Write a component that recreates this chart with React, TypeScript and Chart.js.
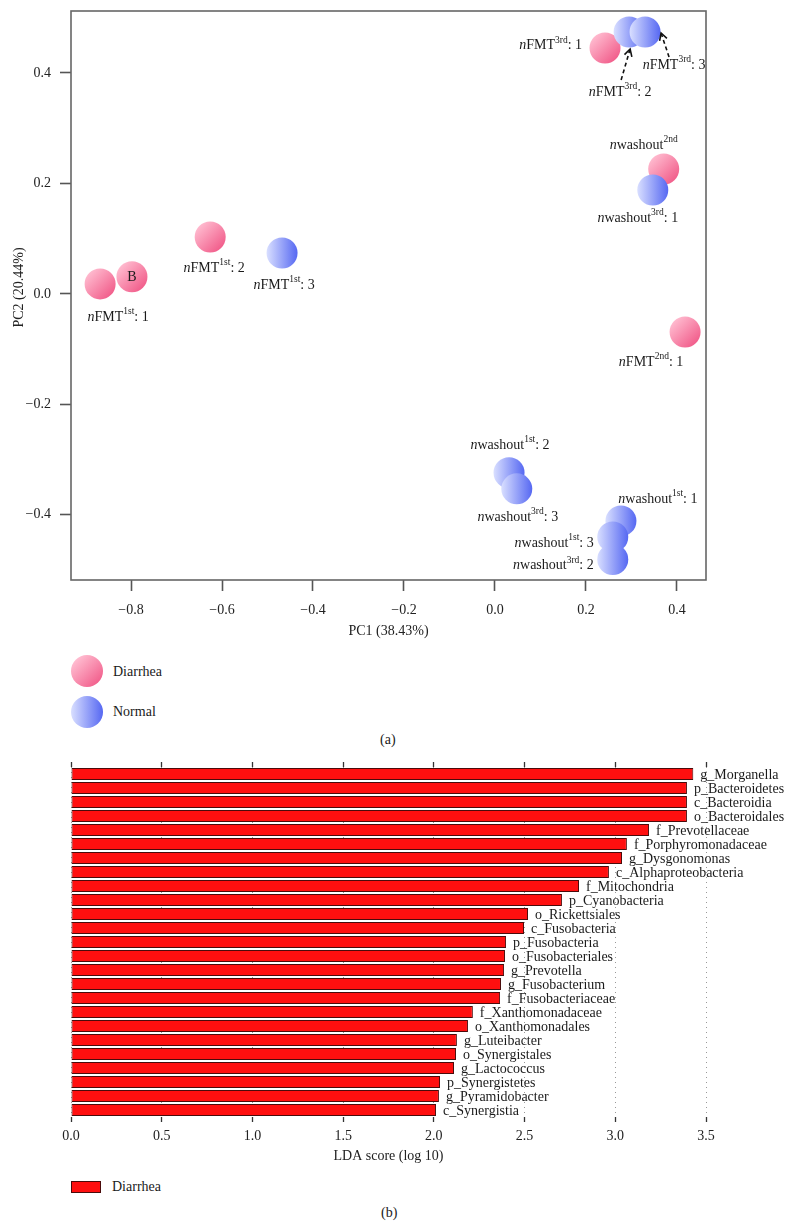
import React, { useEffect, useRef } from "react";
import { Chart, registerables } from "chart.js";

Chart.register(...registerables);

const SERIF = "'Liberation Serif', 'DejaVu Serif', 'Times New Roman', serif";
Chart.defaults.font.family = SERIF;
Chart.defaults.font.size = 14;
Chart.defaults.color = "#222";

// ---------- PCA (panel a) ----------
const sampleNames = [
  "nFMT^{1st}: 1", "B", "nFMT^{1st}: 2", "nFMT^{1st}: 3",
  "nFMT^{3rd}: 1", "nFMT^{3rd}: 2", "nFMT^{3rd}: 3",
  "nwashout^{2nd}", "nwashout^{3rd}: 1", "nFMT^{2nd}: 1",
  "nwashout^{1st}: 2", "nwashout^{3rd}: 3", "nwashout^{1st}: 1",
  "nwashout^{1st}: 3", "nwashout^{3rd}: 2",
];
const sampleGroups = [
  "Diarrhea", "Diarrhea", "Diarrhea", "Normal",
  "Diarrhea", "Normal", "Normal",
  "Diarrhea", "Normal", "Diarrhea",
  "Normal", "Normal", "Normal",
  "Normal", "Normal",
];
const pc1 = [-0.868, -0.798, -0.626, -0.468, 0.242, 0.295, 0.33, 0.371, 0.347, 0.418, 0.031, 0.048, 0.277, 0.259, 0.259];
const pc2 = [0.018, 0.031, 0.103, 0.074, 0.445, 0.474, 0.474, 0.226, 0.188, -0.069, -0.324, -0.353, -0.411, -0.44, -0.481];
const groupOrder = ["Normal", "Diarrhea"]; // first dataset is drawn on top
const xTitle = "PC1 (38.43%)";
const yTitle = "PC2 (20.44%)";

// label placement relative to the point (px): [dx, dy, align]
const labelPlacement: [number, number, string][] = [
  [18, 33, "center"], [0, 0, "center"], [4, 31, "center"], [2, 32, "center"],
  [-23, -3, "right"], [-9, 60, "center"], [29, 33, "center"],
  [-20, -24, "center"], [-15, 28, "center"], [-34, 30, "center"],
  [1, -28, "center"], [1, 28, "center"], [37, -22, "center"],
  [-19, 6, "right"], [-19, 6, "right"],
];
const arrowLinks = [
  { sample: 5, from: [-8, 48], to: [1, 17] },
  { sample: 6, from: [24, 25], to: [16, 1] },
];

// ---------- LDA (panel b) ----------
const ldaTaxa = [
  "g_Morganella", "p_Bacteroidetes", "c_Bacteroidia", "o_Bacteroidales",
  "f_Prevotellaceae", "f_Porphyromonadaceae", "g_Dysgonomonas", "c_Alphaproteobacteria",
  "f_Mitochondria", "p_Cyanobacteria", "o_Rickettsiales", "c_Fusobacteria",
  "p_Fusobacteria", "o_Fusobacteriales", "g_Prevotella", "g_Fusobacterium",
  "f_Fusobacteriaceae", "f_Xanthomonadaceae", "o_Xanthomonadales", "g_Luteibacter",
  "o_Synergistales", "g_Lactococcus", "p_Synergistetes", "g_Pyramidobacter",
  "c_Synergistia",
];
const ldaScores = [
  3.43, 3.395, 3.395, 3.395,
  3.186, 3.064, 3.037, 2.965,
  2.8, 2.706, 2.519, 2.497,
  2.398, 2.392, 2.387, 2.37,
  2.365, 2.215, 2.188, 2.127,
  2.122, 2.111, 2.034, 2.028,
  2.012,
];

const fmtTick = (v: any) => {
  const n = Number(v);
  const s = Math.abs(n).toFixed(1);
  return (n < -1e-9 ? "\u2212" : "") + s;
};

function drawRichLabel(ctx: CanvasRenderingContext2D, text: string, x: number, y: number, align: string) {
  ctx.textBaseline = "middle";
  ctx.fillStyle = "#1a1a1a";
  const m = text.match(/^n([A-Za-z]+)\^\{([^}]+)\}(.*)$/);
  if (!m) {
    ctx.font = `14px ${SERIF}`;
    ctx.textAlign = "center";
    ctx.fillText(text, x, y + 1);
    return;
  }
  const parts = [
    { t: "n", f: `italic 14px ${SERIF}`, dy: 0 },
    { t: m[1], f: `14px ${SERIF}`, dy: 0 },
    { t: m[2], f: `9.5px ${SERIF}`, dy: -5 },
    { t: m[3], f: `14px ${SERIF}`, dy: 0 },
  ];
  let total = 0;
  const widths = parts.map((p) => {
    ctx.font = p.f;
    const w = ctx.measureText(p.t).width;
    total += w;
    return w;
  });
  let cx = align === "right" ? x - total : align === "left" ? x : x - total / 2;
  ctx.textAlign = "left";
  parts.forEach((p, i) => {
    ctx.font = p.f;
    ctx.fillText(p.t, cx, y + p.dy);
    cx += widths[i];
  });
}

function drawArrow(ctx: CanvasRenderingContext2D, x1: number, y1: number, x2: number, y2: number) {
  ctx.save();
  ctx.strokeStyle = "#111";
  ctx.lineWidth = 1.6;
  ctx.setLineDash([4, 3]);
  ctx.beginPath();
  ctx.moveTo(x1, y1);
  ctx.lineTo(x2, y2);
  ctx.stroke();
  ctx.setLineDash([]);
  const a = Math.atan2(y2 - y1, x2 - x1);
  const L = 8;
  const w = 0.5;
  ctx.beginPath();
  ctx.moveTo(x2 - L * Math.cos(a - w), y2 - L * Math.sin(a - w));
  ctx.lineTo(x2, y2);
  ctx.lineTo(x2 - L * Math.cos(a + w), y2 - L * Math.sin(a + w));
  ctx.stroke();
  ctx.restore();
}

const POINT_R = 15.5;

function pointFill(group: string) {
  const fallback = group === "Diarrhea" ? "#f98aad" : "#9aa6fa";
  return (c: any) => {
    if (!c || c.type !== "data" || !c.parsed) return fallback;
    const chart = c.chart;
    const xs = chart.scales && chart.scales.x;
    const ys = chart.scales && chart.scales.y;
    if (!xs || !ys) return fallback;
    const px = xs.getPixelForValue(c.parsed.x);
    const py = ys.getPixelForValue(c.parsed.y);
    if (!Number.isFinite(px) || !Number.isFinite(py)) return fallback;
    const ctx = chart.ctx as CanvasRenderingContext2D;
    if (group === "Diarrhea") {
      const g = ctx.createLinearGradient(px - POINT_R * 0.75, py - POINT_R * 0.75, px + POINT_R * 0.75, py + POINT_R * 0.75);
      g.addColorStop(0, "#ffbcd0");
      g.addColorStop(1, "#f15c8a");
      return g;
    }
    const g = ctx.createLinearGradient(px - POINT_R, py, px + POINT_R, py);
    g.addColorStop(0, "#d9dfff");
    g.addColorStop(1, "#5668f2");
    return g;
  };
}

function noScalePadding(s: any) {
  s.paddingTop = 0;
  s.paddingBottom = 0;
  s.paddingLeft = 0;
  s.paddingRight = 0;
}

function ScatterPanel() {
  const ref = useRef<HTMLCanvasElement>(null);
  useEffect(() => {
    if (!ref.current) return;
    const lookup: Record<number, [number, number]> = {};
    const datasets = groupOrder.map((grp, di) => {
      const idx = sampleGroups.map((g, i) => (g === grp ? i : -1)).filter((i) => i >= 0);
      idx.forEach((s, ei) => (lookup[s] = [di, ei]));
      return {
        label: grp,
        data: idx.map((i) => ({ x: pc1[i], y: pc2[i] })),
        pointRadius: POINT_R,
        pointHoverRadius: POINT_R,
        pointBorderWidth: 0,
        borderWidth: 0,
        pointBackgroundColor: pointFill(grp),
        backgroundColor: pointFill(grp),
        showLine: false,
      };
    });

    const frame = {
      id: "frame",
      beforeDatasetsDraw(chart: any) {
        const { left, top, right, bottom } = chart.chartArea;
        const ctx = chart.ctx;
        ctx.save();
        ctx.strokeStyle = "#666";
        ctx.lineWidth = 1.6;
        ctx.strokeRect(left, top, right - left, bottom - top);
        ctx.restore();
      },
    };
    const labels = {
      id: "pointLabels",
      afterDatasetsDraw(chart: any) {
        const ctx = chart.ctx as CanvasRenderingContext2D;
        ctx.save();
        sampleNames.forEach((name, s) => {
          const [di, ei] = lookup[s];
          const el = chart.getDatasetMeta(di).data[ei];
          const [dx, dy, align] = labelPlacement[s];
          drawRichLabel(ctx, name, el.x + dx, el.y + dy, align);
        });
        arrowLinks.forEach((a) => {
          const [di, ei] = lookup[a.sample];
          const el = chart.getDatasetMeta(di).data[ei];
          drawArrow(ctx, el.x + a.from[0], el.y + a.from[1], el.x + a.to[0], el.y + a.to[1]);
        });
        // vertical axis title (sits slightly above the plot's mid-height in the original)
        const { top, bottom } = chart.chartArea;
        ctx.translate(19, (top + bottom) / 2 - 8);
        ctx.rotate(-Math.PI / 2);
        ctx.font = `14px ${SERIF}`;
        ctx.fillStyle = "#222";
        ctx.textAlign = "center";
        ctx.textBaseline = "middle";
        ctx.fillText(yTitle, 0, 0);
        ctx.restore();
      },
    };

    const chart = new Chart(ref.current, {
      type: "scatter",
      data: { datasets },
      options: {
        animation: false,
        responsive: false,
        events: [],
        layout: { autoPadding: false, padding: { left: 0, right: 90, top: 11, bottom: 0 } },
        plugins: { legend: { display: false }, tooltip: { enabled: false } },
        scales: {
          x: {
            type: "linear",
            min: -0.932,
            max: 0.464,
            ticks: { stepSize: 0.2, includeBounds: false, callback: fmtTick, padding: 11, color: "#222", font: { size: 14, family: SERIF }, maxRotation: 0 },
            grid: { drawOnChartArea: false, tickLength: 11, tickColor: "#555", tickWidth: 1.6 },
            border: { display: false },
            title: { display: true, text: xTitle, color: "#222", font: { size: 14, family: SERIF }, padding: { top: 0, bottom: 10 } },
            afterFit(s: any) { s.height = 70; noScalePadding(s); },
          },
          y: {
            type: "linear",
            min: -0.518,
            max: 0.512,
            ticks: { stepSize: 0.2, includeBounds: false, callback: fmtTick, padding: 9, color: "#222", font: { size: 14, family: SERIF } },
            grid: { drawOnChartArea: false, tickLength: 11, tickColor: "#555", tickWidth: 1.6 },
            border: { display: false },
            title: { display: false },
            afterFit(s: any) { s.width = 71; noScalePadding(s); },
          },
        },
      } as any,
      plugins: [frame, labels],
    });
    return () => chart.destroy();
  }, []);
  return <canvas ref={ref} width={796} height={650} style={{ position: "absolute", left: 0, top: 0, display: "block" }} />;
}

function BarPanel() {
  const ref = useRef<HTMLCanvasElement>(null);
  useEffect(() => {
    if (!ref.current) return;
    const barLabels = {
      id: "barLabels",
      afterDatasetsDraw(chart: any) {
        const ctx = chart.ctx as CanvasRenderingContext2D;
        const meta = chart.getDatasetMeta(0);
        ctx.save();
        ctx.font = `14px ${SERIF}`;
        ctx.fillStyle = "#1a1a1a";
        ctx.textAlign = "left";
        ctx.textBaseline = "middle";
        meta.data.forEach((bar: any, i: number) => {
          ctx.fillText(ldaTaxa[i], bar.x + 7, bar.y + 1);
        });
        ctx.restore();
      },
    };
    const chart = new Chart(ref.current, {
      type: "bar",
      data: {
        labels: ldaTaxa,
        datasets: [
          {
            label: "Diarrhea",
            data: ldaScores,
            backgroundColor: "#ff0f0f",
            borderColor: "#4a0b0b",
            borderWidth: 1,
            borderSkipped: false,
            barPercentage: 0.86,
            categoryPercentage: 1,
          },
        ],
      },
      options: {
        indexAxis: "y",
        animation: false,
        responsive: false,
        events: [],
        layout: { autoPadding: false, padding: { left: 71, right: 90, top: 15, bottom: 0 } },
        plugins: { legend: { display: false }, tooltip: { enabled: false } },
        scales: {
          x: {
            type: "linear",
            position: "bottom",
            min: 0,
            max: 3.5,
            ticks: { stepSize: 0.5, callback: (v: any) => Number(v).toFixed(1), padding: 6, color: "#222", font: { size: 14, family: SERIF }, maxRotation: 0 },
            grid: { color: "#999", lineWidth: 1, tickColor: "#333", tickLength: 5, tickWidth: 1.3, tickBorderDash: [] },
            border: { display: false, dash: [1, 4] },
            title: { display: true, text: "LDA score (log 10)", color: "#222", font: { size: 14, family: SERIF }, padding: { top: 0, bottom: 0 } },
            afterFit(s: any) { s.height = 48; noScalePadding(s); },
          },
          x2: {
            type: "linear",
            position: "top",
            min: 0,
            max: 3.5,
            ticks: { stepSize: 0.5, display: false },
            grid: { drawOnChartArea: false, tickColor: "#333", tickLength: 5, tickWidth: 1.3 },
            border: { display: false },
            afterFit(s: any) { s.height = 7; noScalePadding(s); },
          },
          y: { type: "category", display: false, offset: true },
        },
      } as any,
      plugins: [barLabels],
    });
    return () => chart.destroy();
  }, []);
  return <canvas ref={ref} width={796} height={420} style={{ position: "absolute", left: 0, top: 745, display: "block" }} />;
}

const textStyle: React.CSSProperties = {
  position: "absolute",
  fontFamily: SERIF,
  fontSize: 14,
  lineHeight: "16px",
  color: "#1a1a1a",
  whiteSpace: "nowrap",
};

export default function App() {
  return (
    <div style={{ position: "absolute", left: 0, top: 0, width: 796, height: 1228, background: "#fff", overflow: "hidden" }}>
      <ScatterPanel />
      <div style={{ position: "absolute", left: 71, top: 655, width: 32, height: 32, borderRadius: "50%", background: "linear-gradient(135deg, #ffbcd0 15%, #f15c8a 90%)" }} />
      <div style={{ ...textStyle, left: 113, top: 664 }}>Diarrhea</div>
      <div style={{ position: "absolute", left: 71, top: 696, width: 32, height: 32, borderRadius: "50%", background: "linear-gradient(90deg, #d9dfff, #5668f2)" }} />
      <div style={{ ...textStyle, left: 113, top: 704 }}>Normal</div>
      <div style={{ ...textStyle, left: 380, top: 732 }}>(a)</div>
      <BarPanel />
      <div style={{ position: "absolute", left: 71, top: 1181, width: 28, height: 10, background: "#ff0f0f", border: "1px solid #4a0b0b" }} />
      <div style={{ ...textStyle, left: 112, top: 1179 }}>Diarrhea</div>
      <div style={{ ...textStyle, left: 381, top: 1205 }}>(b)</div>
    </div>
  );
}
